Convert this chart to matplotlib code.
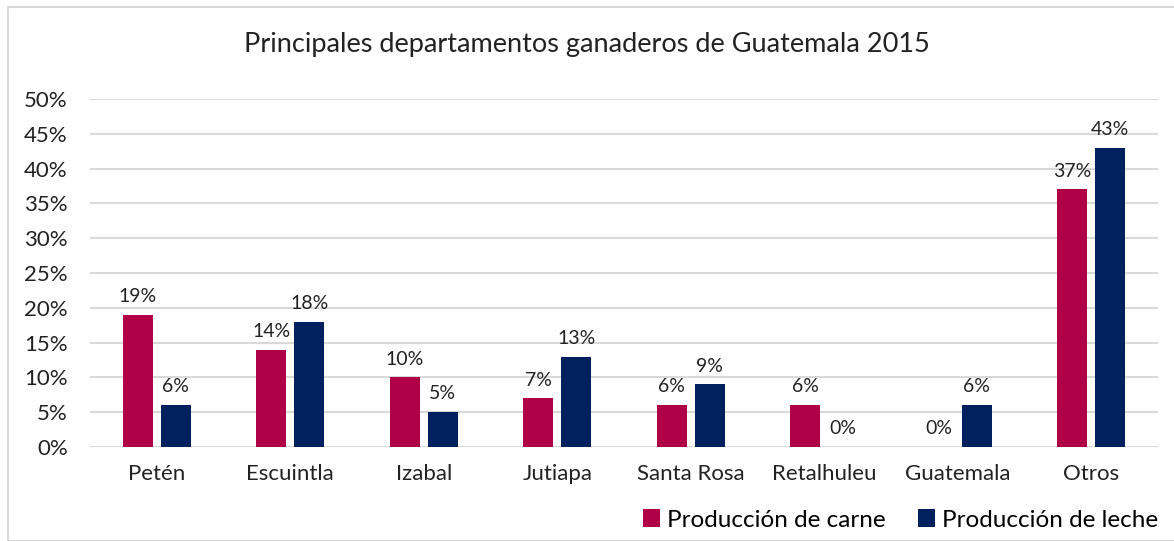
import matplotlib.pyplot as plt
import numpy as np
from matplotlib.patches import Rectangle

# ============================================================
# DATA
# ============================================================

departamentos = ["Petén", "Escuintla", "Izabal", "Jutiapa",
                 "Santa Rosa", "Retalhuleu", "Guatemala", "Otros"]
carne = [19, 14, 10, 7, 6, 6, 0, 37]
leche = [6, 18, 5, 13, 9, 0, 6, 43]

COLOR_CARNE = "#AF0047"
COLOR_LECHE = "#00215E"

plt.rcParams["font.family"] = ["Lato", "DejaVu Sans"]

# ============================================================
# PLOT
# ============================================================

fig = plt.figure(figsize=(11.74, 5.41), dpi=100)
ax = fig.add_axes([90 / 1174, 1 - 447 / 541, (1158 - 90) / 1174, (447 - 99) / 541])

x = np.arange(len(departamentos))
w = 0.225
off = 0.1425

b1 = ax.bar(x - off, carne, w, color=COLOR_CARNE, label="Producción de carne", zorder=3)
b2 = ax.bar(x + off, leche, w, color=COLOR_LECHE, label="Producción de leche", zorder=3)

for bars, vals in ((b1, carne), (b2, leche)):
    for b, v in zip(bars, vals):
        ax.text(b.get_x() + b.get_width() / 2, v + 1.4, f"{v}%",
                ha="center", va="bottom", fontsize=14, color="#222222")

ax.set_xlim(-0.5, len(departamentos) - 0.5)
ax.set_ylim(0, 50)
ax.set_yticks(np.arange(0, 51, 5))
ax.set_yticklabels([f"{t}%" for t in range(0, 51, 5)], fontsize=16)
ax.set_xticks(x)
ax.set_xticklabels(departamentos, fontsize=16)
ax.tick_params(axis="both", length=0, colors="#222222")
ax.tick_params(axis="y", pad=16)
ax.tick_params(axis="x", pad=12)

ax.grid(axis="y", color="#D9D9D9", linewidth=1.5, zorder=0)
for s in ax.spines.values():
    s.set_visible(False)

fig.text(0.5, 1 - 45 / 541, "Principales departamentos ganaderos de Guatemala 2015",
         ha="center", va="center", fontsize=19.5, color="#222222")

fig.legend(loc="center right", bbox_to_anchor=(1180 / 1174, 1 - 520 / 541),
           ncol=2, frameon=False, fontsize=17.5, handlelength=0.7, handleheight=0.7,
           handletextpad=0.3, columnspacing=1.3)

fig.patches.append(Rectangle((8 / 1174, 0), 1.2, 1 - 7 / 541,
                             transform=fig.transFigure, fill=False,
                             edgecolor="#D9D9D9", linewidth=1.5))

fig.savefig("out.png", dpi=100)
